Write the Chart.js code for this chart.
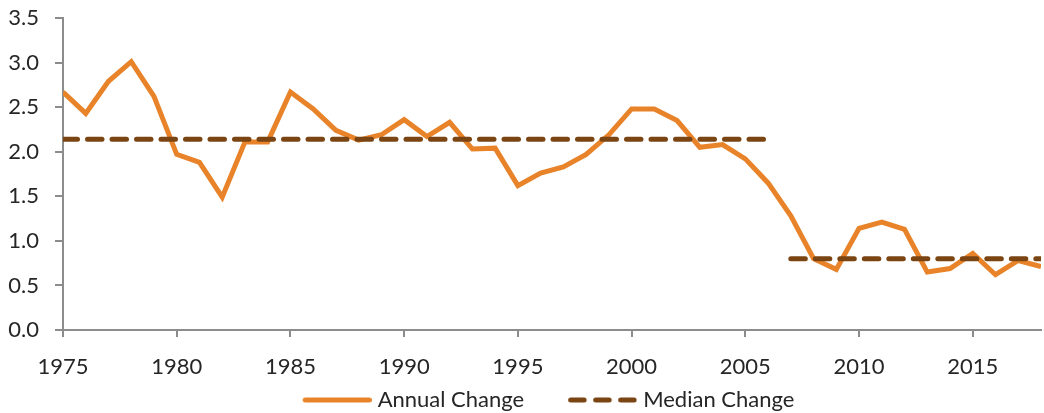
<!DOCTYPE html>
<html>
<head>
<meta charset="utf-8">
<script src="https://cdn.jsdelivr.net/npm/chart.js@4"></script>
<style>
  html, body { margin: 0; padding: 0; background: #fff; }
  #wrap { width: 1044px; height: 413px; position: relative; }
</style>
</head>
<body>
<div id="wrap"><canvas id="c"></canvas></div>
<script>
const years = [1975,1976,1977,1978,1979,1980,1981,1982,1983,1984,1985,1986,1987,1988,1989,1990,1991,1992,1993,1994,1995,1996,1997,1998,1999,2000,2001,2002,2003,2004,2005,2006,2007,2008,2009,2010,2011,2012,2013,2014,2015,2016,2017,2018];
const annualChange = [2.67,2.43,2.79,3.01,2.62,1.97,1.88,1.49,2.11,2.11,2.67,2.48,2.24,2.13,2.19,2.36,2.17,2.33,2.03,2.04,1.62,1.76,1.83,1.97,2.19,2.48,2.48,2.35,2.05,2.08,1.92,1.65,1.28,0.80,0.68,1.14,1.21,1.13,0.65,0.69,0.86,0.62,0.78,0.71];
const medianYearsEarly = [1975, 2006];
const medianEarly = [2.14, 2.14];
const medianYearsLate = [2007, 2018];
const medianLate = [0.80, 0.80];
const yTicks = [0, 0.5, 1.0, 1.5, 2.0, 2.5, 3.0, 3.5];
const xTicks = [1975, 1980, 1985, 1990, 1995, 2000, 2005, 2010, 2015];

const toPts = (xs, ys) => xs.map((x, i) => ({ x: x, y: ys[i] }));

const ORANGE = '#E8832A';
const BROWN = '#7A4512';
const AXIS = '#8c8c8c';
const TXT = '#262626';
const FONT = 'Lato, "Noto Sans", sans-serif';

// legend sample images (line style swatches)
function swatch(color, dashed) {
  const c = document.createElement('canvas');
  c.width = 110; c.height = 8;
  const g = c.getContext('2d');
  g.strokeStyle = color; g.lineWidth = 5; g.lineCap = 'round';
  g.beginPath();
  if (dashed) {
    for (let k = 0; k < 3; k++) {
      const s = 43.5 + k * 25;
      g.moveTo(s, 4); g.lineTo(s + 13.5, 4);
    }
  } else {
    g.moveTo(43.5, 4); g.lineTo(107.5, 4);
  }
  g.stroke();
  return c;
}
const swatches = [swatch(ORANGE, false), swatch(BROWN, true)];

const legendShift = {
  id: 'legendShift',
  afterLayout(chart) { if (chart.legend) chart.legend.left += 20; }
};

new Chart(document.getElementById('c'), {
  type: 'line',
  plugins: [legendShift],
  data: {
    datasets: [
      {
        label: 'Annual Change',
        data: toPts(years, annualChange),
        borderColor: ORANGE,
        backgroundColor: ORANGE,
        borderWidth: 5,
        pointRadius: 0,
        tension: 0,
        borderJoinStyle: 'miter',
        order: 2
      },
      {
        label: 'Median Change',
        data: toPts(medianYearsEarly, medianEarly),
        borderColor: BROWN,
        backgroundColor: BROWN,
        borderWidth: 5,
        borderDash: [14.5, 10],
        borderCapStyle: 'round',
        pointRadius: 0,
        order: 1
      },
      {
        label: 'Median Change (late)',
        data: toPts(medianYearsLate, medianLate),
        borderColor: BROWN,
        backgroundColor: BROWN,
        borderWidth: 5,
        borderDash: [14.5, 10],
        borderCapStyle: 'round',
        pointRadius: 0,
        order: 1
      }
    ]
  },
  options: {
    responsive: true,
    maintainAspectRatio: false,
    animation: false,
    layout: { padding: { left: 0, right: 3, top: 0, bottom: 0 } },
    plugins: {
      tooltip: { enabled: false },
      legend: {
        position: 'bottom',
        maxHeight: 32,
        labels: {
          generateLabels: (chart) => {
            const items = Chart.defaults.plugins.legend.labels.generateLabels(chart);
            return items
              .filter(it => it.datasetIndex !== 2)
              .sort((a, b) => a.datasetIndex - b.datasetIndex)
              .map(it => Object.assign(it, { pointStyle: swatches[it.datasetIndex], fontColor: TXT }));
          },
          usePointStyle: true,
          pointStyleWidth: 100,
          boxHeight: 22,
          padding: 8,
          color: TXT,
          font: { family: FONT, size: 22 }
        }
      }
    },
    scales: {
      x: {
        type: 'linear',
        min: years[0],
        max: years[years.length - 1],
        bounds: 'data',
        border: { color: AXIS, width: 2 },
        grid: { drawOnChartArea: false, drawTicks: true, tickLength: 7, color: AXIS, lineWidth: 2 },
        afterBuildTicks: (s) => { s.ticks = xTicks.map(v => ({ value: v })); },
        ticks: {
          color: TXT,
          padding: 17,
          maxRotation: 0,
          autoSkip: false,
          font: { family: FONT, size: 22 },
          callback: (v) => String(v)
        },
        afterFit: (s) => { s.height = 51; }
      },
      y: {
        min: yTicks[0],
        max: yTicks[yTicks.length - 1],
        border: { color: AXIS, width: 2 },
        grid: { drawOnChartArea: false, drawTicks: true, tickLength: 8, color: AXIS, lineWidth: 2 },
        afterBuildTicks: (s) => { s.ticks = yTicks.map(v => ({ value: v })); },
        ticks: {
          color: TXT,
          padding: 16,
          font: { family: FONT, size: 22 },
          callback: (v) => Number(v).toFixed(1)
        },
        afterFit: (s) => { s.width = 63; s.paddingTop = 18; s.paddingBottom = 0; }
      }
    }
  }
});
</script>
</body>
</html>
